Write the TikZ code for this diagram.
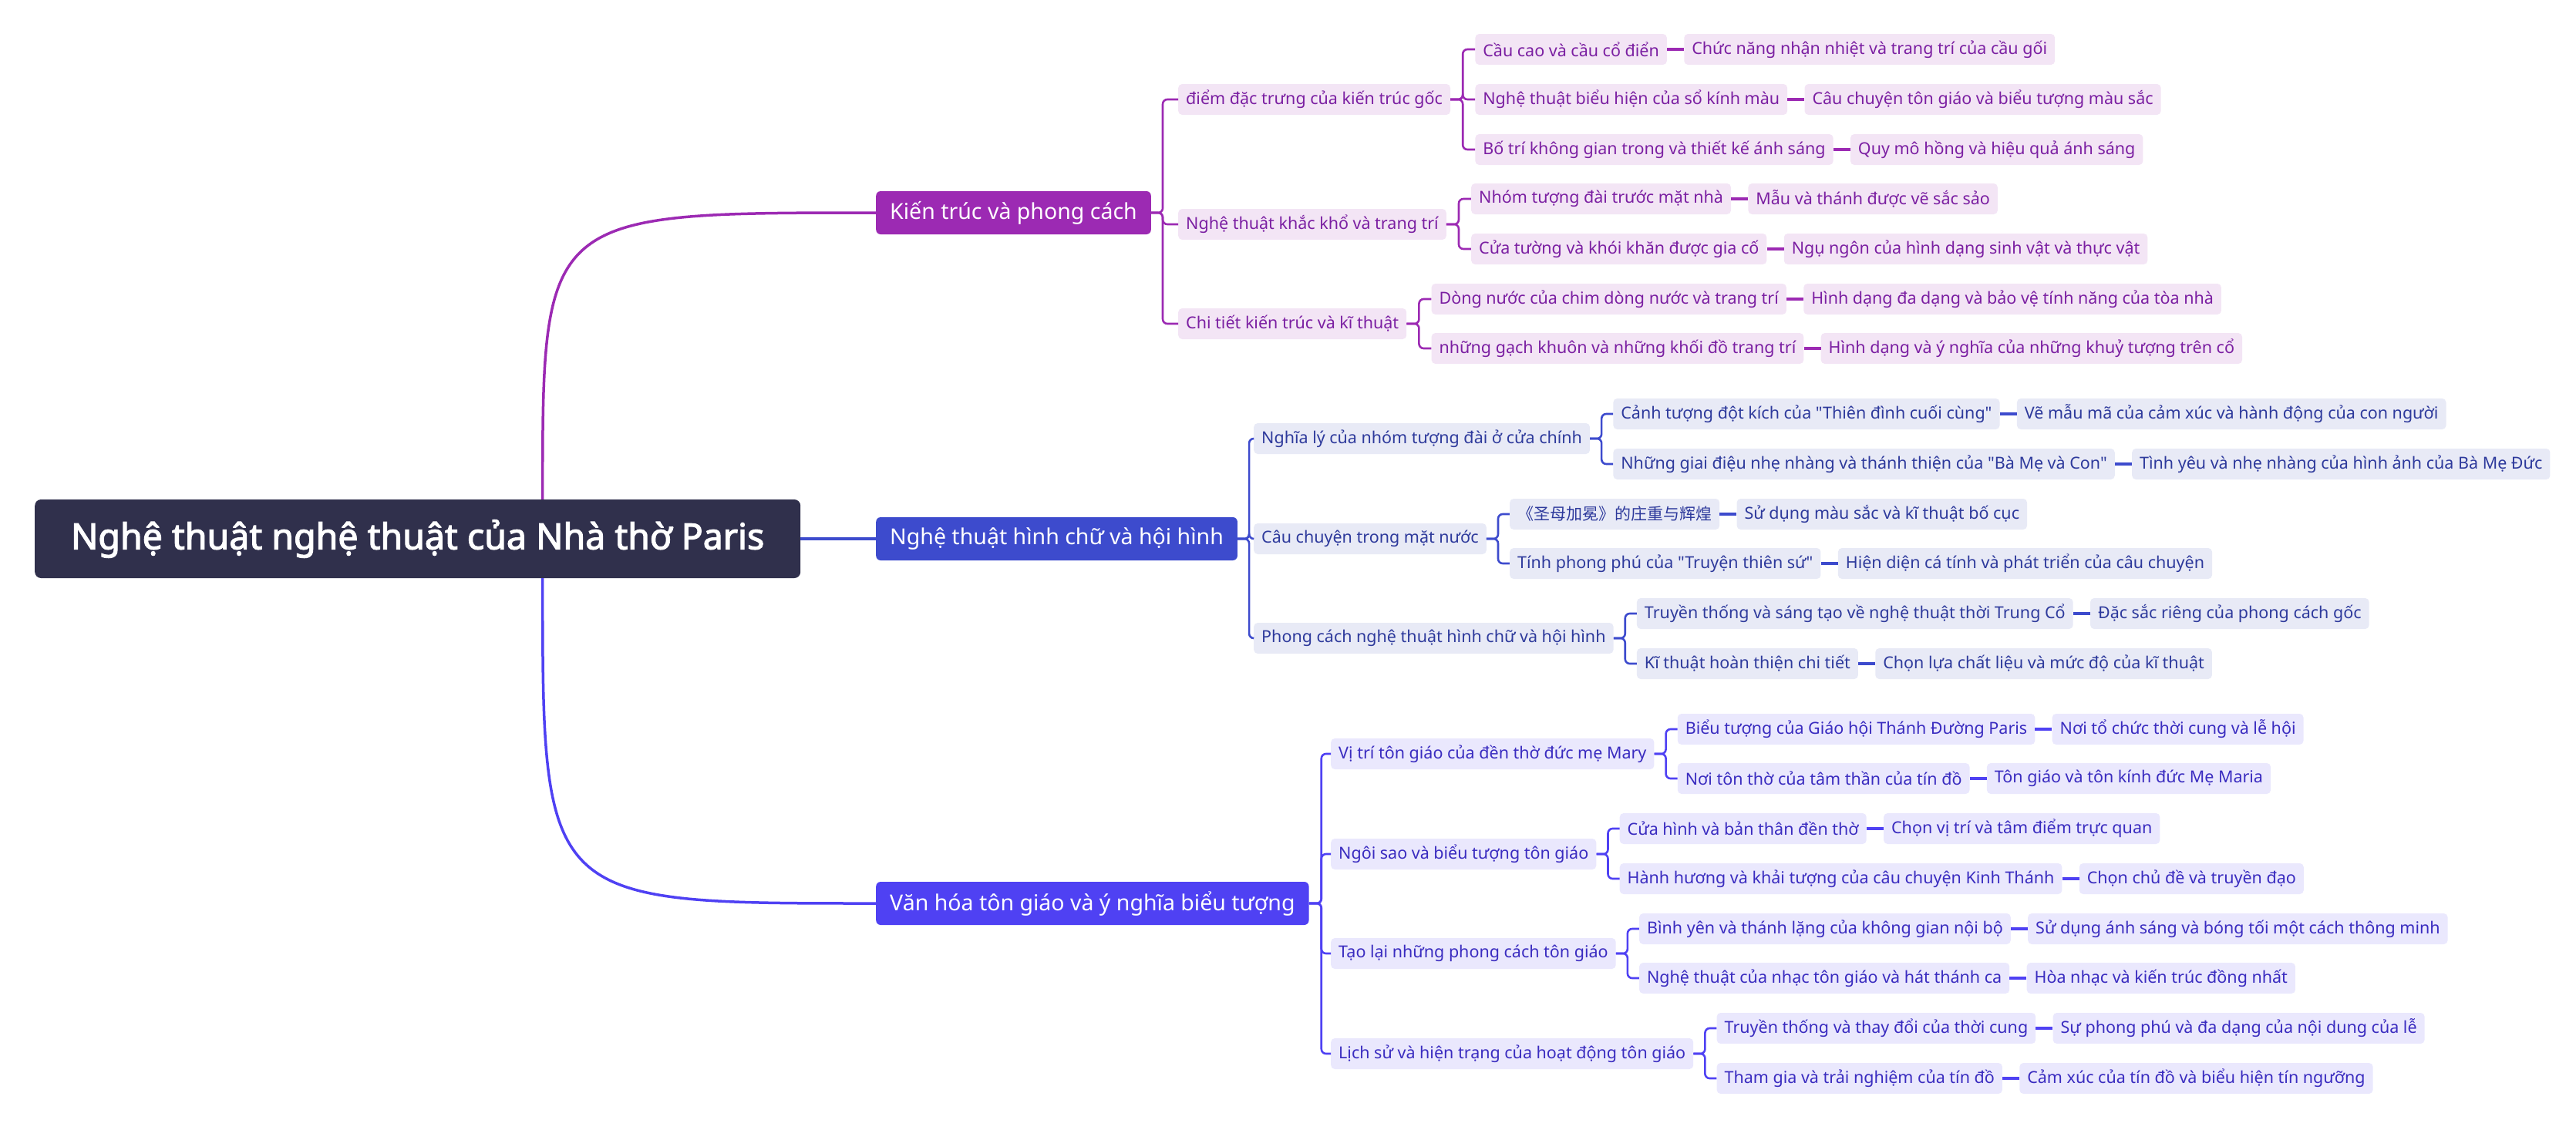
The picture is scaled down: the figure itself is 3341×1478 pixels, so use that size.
\documentclass[tikz,border=0pt]{standalone}
\usepackage{fontspec}
\usetikzlibrary{positioning}
\setmainfont{Noto Sans}
\newfontfamily\mapfont{Noto Sans}
\newfontfamily\rootfont{Noto Sans}[FakeBold=2.6]
\newfontfamily\cjk{Noto Sans CJK SC}
\definecolor{rootbg}{HTML}{30304C}
\definecolor{purA}{HTML}{9C2AB3}
\definecolor{purAlight}{HTML}{F3E5F5}
\definecolor{purAtext}{HTML}{7B1FA2}
\definecolor{bluB}{HTML}{3D4BCD}
\definecolor{bluBlight}{HTML}{E8EAF6}
\definecolor{bluBtext}{HTML}{2E3A9C}
\definecolor{vioC}{HTML}{4F41F3}
\definecolor{vioClight}{HTML}{EAE8FD}
\definecolor{vioCtext}{HTML}{3A2CC0}
\tikzset{
  rootnode/.style={fill=rootbg, text=white, rounded corners=8, anchor=west,
    font=\rootfont\fontsize{46.5}{52}\selectfont, minimum height=102, minimum width=993},
  topic/.style={text=white, rounded corners=6, anchor=west, inner xsep=18,
    font=\mapfont\fontsize{28.5}{34}\selectfont, minimum height=56},
  subA/.style={fill=purAlight, text=purAtext, rounded corners=5, anchor=west, inner xsep=10,
    font=\mapfont\fontsize{21.5}{26}\selectfont, minimum height=40},
  subB/.style={subA, fill=bluBlight, text=bluBtext},
  subC/.style={subA, fill=vioClight, text=vioCtext},
  linkA/.style={draw=purA, line width=2.6, rounded corners=6},
  linkB/.style={draw=bluB, line width=2.6, rounded corners=6},
  linkC/.style={draw=vioC, line width=2.6, rounded corners=6},
  leafA/.style={draw=purA, line width=4.5},
  leafB/.style={draw=bluB, line width=4.5},
  leafC/.style={draw=vioC, line width=4.5},
}

\begin{document}
\begin{tikzpicture}[x=1pt, y=-1pt]
\useasboundingbox (0,0) rectangle (3341,1478);

% trung tam
\node[rootnode] (root) at (45,699) {Nghệ thuật nghệ thuật của Nhà thờ Paris};
\coordinate (rtop) at ([xshift=162]root.north);
\coordinate (rbot) at ([xshift=162]root.south);

% nhanh chinh
\node[topic, fill=purA] (kt) at (1136,276) {Kiến trúc và phong cách};
\node[topic, fill=bluB] (nt) at (1136,699) {Nghệ thuật hình chữ và hội hình};
\node[topic, fill=vioC] (vh) at (1136,1172) {Văn hóa tôn giáo và ý nghĩa biểu tượng};

\draw[purA, line width=3.5] (rtop) .. controls (rtop |- kt.west) .. (kt.west);
\draw[bluB, line width=3.5] (root.east) -- (nt.west);
\draw[vioC, line width=3.5] (rbot) .. controls (rbot |- vh.west) .. (vh.west);

% Kien truc va phong cach
\node[subA] (kt1) at (1528,129) {điểm đặc trưng của kiến trúc gốc};
\node[subA] (kt2) at (1528,291) {Nghệ thuật khắc khổ và trang trí};
\node[subA] (kt3) at (1528,420) {Chi tiết kiến trúc và kĩ thuật};
\coordinate (kt1r) at ([xshift=32]kt1.east);
\coordinate (kt2r) at ([xshift=32]kt2.east);
\coordinate (kt3r) at ([xshift=32]kt3.east);
\node[subA] (kt11) at (kt1r |- 0,64) {Cầu cao và cầu cổ điển};
\node[subA] (kt12) at (kt1r |- 0,129) {Nghệ thuật biểu hiện của sổ kính màu};
\node[subA] (kt13) at (kt1r |- 0,194) {Bố trí không gian trong và thiết kế ánh sáng};
\node[subA] (kt21) at (kt2r |- 0,258) {Nhóm tượng đài trước mặt nhà};
\node[subA] (kt22) at (kt2r |- 0,323) {Cửa tường và khói khăn được gia cố};
\node[subA] (kt31) at (kt3r |- 0,388) {Dòng nước của chim dòng nước và trang trí};
\node[subA] (kt32) at (kt3r |- 0,452) {những gạch khuôn và những khối đồ trang trí};
\node[subA, right=22pt of kt11] (kt11d) {Chức năng nhận nhiệt và trang trí của cầu gối};
\node[subA, right=22pt of kt12] (kt12d) {Câu chuyện tôn giáo và biểu tượng màu sắc};
\node[subA, right=22pt of kt13] (kt13d) {Quy mô hồng và hiệu quả ánh sáng};
\node[subA, right=22pt of kt21] (kt21d) {Mẫu và thánh được vẽ sắc sảo};
\node[subA, right=22pt of kt22] (kt22d) {Ngụ ngôn của hình dạng sinh vật và thực vật};
\node[subA, right=22pt of kt31] (kt31d) {Hình dạng đa dạng và bảo vệ tính năng của tòa nhà};
\node[subA, right=22pt of kt32] (kt32d) {Hình dạng và ý nghĩa của những khuỷ tượng trên cổ};

\draw[linkA] (kt.east) -- ++(15,0) |- (kt1.west);
\draw[linkA] (kt.east) -- ++(15,0) |- (kt2.west);
\draw[linkA] (kt.east) -- ++(15,0) |- (kt3.west);
\draw[linkA] (kt1.east) -- ++(16,0) |- (kt11.west);
\draw[linkA] (kt1.east) -- ++(16,0) |- (kt12.west);
\draw[linkA] (kt1.east) -- ++(16,0) |- (kt13.west);
\draw[linkA] (kt2.east) -- ++(16,0) |- (kt21.west);
\draw[linkA] (kt2.east) -- ++(16,0) |- (kt22.west);
\draw[linkA] (kt3.east) -- ++(16,0) |- (kt31.west);
\draw[linkA] (kt3.east) -- ++(16,0) |- (kt32.west);
\draw[leafA] (kt11) -- (kt11d);
\draw[leafA] (kt12) -- (kt12d);
\draw[leafA] (kt13) -- (kt13d);
\draw[leafA] (kt21) -- (kt21d);
\draw[leafA] (kt22) -- (kt22d);
\draw[leafA] (kt31) -- (kt31d);
\draw[leafA] (kt32) -- (kt32d);

% Nghe thuat hinh chu va hoi hinh
\node[subB] (nt1) at (1626,569) {Nghĩa lý của nhóm tượng đài ở cửa chính};
\node[subB] (nt2) at (1626,699) {Câu chuyện trong mặt nước};
\node[subB] (nt3) at (1626,828) {Phong cách nghệ thuật hình chữ và hội hình};
\coordinate (nt1r) at ([xshift=30]nt1.east);
\coordinate (nt2r) at ([xshift=30]nt2.east);
\coordinate (nt3r) at ([xshift=30]nt3.east);
\node[subB] (nt11) at (nt1r |- 0,537) {Cảnh tượng đột kích của "Thiên đình cuối cùng"};
\node[subB] (nt12) at (nt1r |- 0,602) {Những giai điệu nhẹ nhàng và thánh thiện của "Bà Mẹ và Con"};
\node[subB, font=\cjk\fontsize{21}{25}\selectfont] (nt21) at (nt2r |- 0,667) {《圣母加冕》的庄重与辉煌};
\node[subB] (nt22) at (nt2r |- 0,731) {Tính phong phú của "Truyện thiên sứ"};
\node[subB] (nt31) at (nt3r |- 0,796) {Truyền thống và sáng tạo về nghệ thuật thời Trung Cổ};
\node[subB] (nt32) at (nt3r |- 0,861) {Kĩ thuật hoàn thiện chi tiết};
\node[subB, right=22pt of nt11] (nt11d) {Vẽ mẫu mã của cảm xúc và hành động của con người};
\node[subB, right=22pt of nt12] (nt12d) {Tình yêu và nhẹ nhàng của hình ảnh của Bà Mẹ Đức};
\node[subB, right=22pt of nt21] (nt21d) {Sử dụng màu sắc và kĩ thuật bố cục};
\node[subB, right=22pt of nt22] (nt22d) {Hiện diện cá tính và phát triển của câu chuyện};
\node[subB, right=22pt of nt31] (nt31d) {Đặc sắc riêng của phong cách gốc};
\node[subB, right=22pt of nt32] (nt32d) {Chọn lựa chất liệu và mức độ của kĩ thuật};

\draw[linkB] (nt.east) -- ++(15,0) |- (nt1.west);
\draw[linkB] (nt.east) -- ++(15,0) |- (nt2.west);
\draw[linkB] (nt.east) -- ++(15,0) |- (nt3.west);
\draw[linkB] (nt1.east) -- ++(15,0) |- (nt11.west);
\draw[linkB] (nt1.east) -- ++(15,0) |- (nt12.west);
\draw[linkB] (nt2.east) -- ++(15,0) |- (nt21.west);
\draw[linkB] (nt2.east) -- ++(15,0) |- (nt22.west);
\draw[linkB] (nt3.east) -- ++(15,0) |- (nt31.west);
\draw[linkB] (nt3.east) -- ++(15,0) |- (nt32.west);
\draw[leafB] (nt11) -- (nt11d);
\draw[leafB] (nt12) -- (nt12d);
\draw[leafB] (nt21) -- (nt21d);
\draw[leafB] (nt22) -- (nt22d);
\draw[leafB] (nt31) -- (nt31d);
\draw[leafB] (nt32) -- (nt32d);

% Van hoa ton giao va y nghia bieu tuong
\node[subC] (vh1) at (1726,978) {Vị trí tôn giáo của đền thờ đức mẹ Mary};
\node[subC] (vh2) at (1726,1108) {Ngôi sao và biểu tượng tôn giáo};
\node[subC] (vh3) at (1726,1237) {Tạo lại những phong cách tôn giáo};
\node[subC] (vh4) at (1726,1367) {Lịch sử và hiện trạng của hoạt động tôn giáo};
\coordinate (vh1r) at ([xshift=30]vh1.east);
\coordinate (vh2r) at ([xshift=30]vh2.east);
\coordinate (vh3r) at ([xshift=30]vh3.east);
\coordinate (vh4r) at ([xshift=30]vh4.east);
\node[subC] (vh11) at (vh1r |- 0,946) {Biểu tượng của Giáo hội Thánh Đường Paris};
\node[subC] (vh12) at (vh1r |- 0,1010) {Nơi tôn thờ của tâm thần của tín đồ};
\node[subC] (vh21) at (vh2r |- 0,1075) {Cửa hình và bản thân đền thờ};
\node[subC] (vh22) at (vh2r |- 0,1140) {Hành hương và khải tượng của câu chuyện Kinh Thánh};
\node[subC] (vh31) at (vh3r |- 0,1205) {Bình yên và thánh lặng của không gian nội bộ};
\node[subC] (vh32) at (vh3r |- 0,1269) {Nghệ thuật của nhạc tôn giáo và hát thánh ca};
\node[subC] (vh41) at (vh4r |- 0,1334) {Truyền thống và thay đổi của thời cung};
\node[subC] (vh42) at (vh4r |- 0,1399) {Tham gia và trải nghiệm của tín đồ};
\node[subC, right=22pt of vh11] (vh11d) {Nơi tổ chức thời cung và lễ hội};
\node[subC, right=22pt of vh12] (vh12d) {Tôn giáo và tôn kính đức Mẹ Maria};
\node[subC, right=22pt of vh21] (vh21d) {Chọn vị trí và tâm điểm trực quan};
\node[subC, right=22pt of vh22] (vh22d) {Chọn chủ đề và truyền đạo};
\node[subC, right=22pt of vh31] (vh31d) {Sử dụng ánh sáng và bóng tối một cách thông minh};
\node[subC, right=22pt of vh32] (vh32d) {Hòa nhạc và kiến trúc đồng nhất};
\node[subC, right=22pt of vh41] (vh41d) {Sự phong phú và đa dạng của nội dung của lễ};
\node[subC, right=22pt of vh42] (vh42d) {Cảm xúc của tín đồ và biểu hiện tín ngưỡng};

\draw[linkC] (vh.east) -- ++(16,0) |- (vh1.west);
\draw[linkC] (vh.east) -- ++(16,0) |- (vh2.west);
\draw[linkC] (vh.east) -- ++(16,0) |- (vh3.west);
\draw[linkC] (vh.east) -- ++(16,0) |- (vh4.west);
\draw[linkC] (vh1.east) -- ++(15,0) |- (vh11.west);
\draw[linkC] (vh1.east) -- ++(15,0) |- (vh12.west);
\draw[linkC] (vh2.east) -- ++(15,0) |- (vh21.west);
\draw[linkC] (vh2.east) -- ++(15,0) |- (vh22.west);
\draw[linkC] (vh3.east) -- ++(15,0) |- (vh31.west);
\draw[linkC] (vh3.east) -- ++(15,0) |- (vh32.west);
\draw[linkC] (vh4.east) -- ++(15,0) |- (vh41.west);
\draw[linkC] (vh4.east) -- ++(15,0) |- (vh42.west);
\draw[leafC] (vh11) -- (vh11d);
\draw[leafC] (vh12) -- (vh12d);
\draw[leafC] (vh21) -- (vh21d);
\draw[leafC] (vh22) -- (vh22d);
\draw[leafC] (vh31) -- (vh31d);
\draw[leafC] (vh32) -- (vh32d);
\draw[leafC] (vh41) -- (vh41d);
\draw[leafC] (vh42) -- (vh42d);
\end{tikzpicture}
\end{document}
